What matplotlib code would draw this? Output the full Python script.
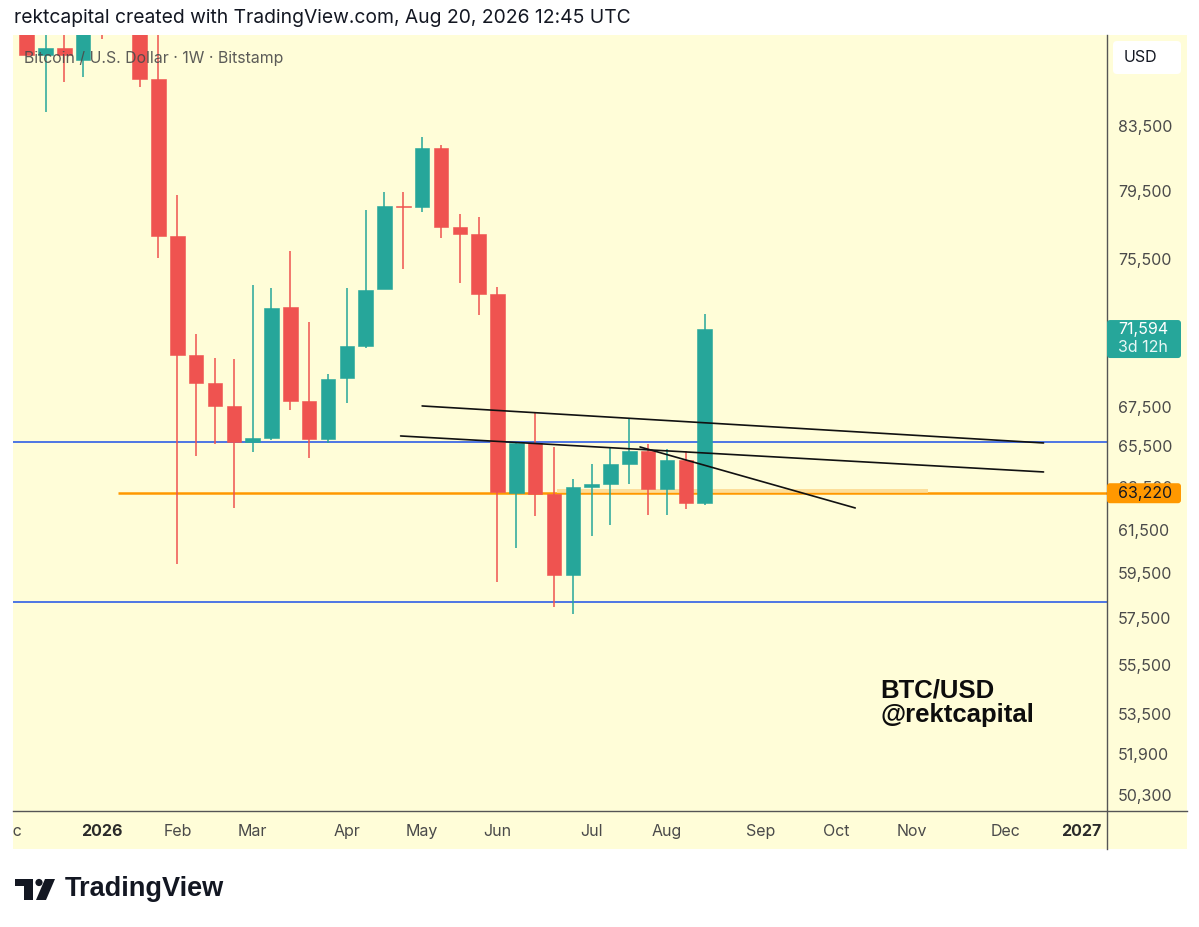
import matplotlib
matplotlib.use("Agg")
import matplotlib.pyplot as plt
import numpy as np
import pandas as pd
from matplotlib.patches import Rectangle, FancyBboxPatch, Circle, Polygon
from matplotlib.lines import Line2D
from matplotlib.transforms import IdentityTransform

plt.rcParams['font.family'] = ['Inter', 'Liberation Sans', 'DejaVu Sans']
UI = ['Inter', 'Liberation Sans', 'DejaVu Sans']
BOLDF = ['Liberation Sans', 'DejaVu Sans']

# ---------------- data ----------------
first_week = '2025-12-08'   # weekly candles (Monday open)
opens  = [90800, 88114, 88583, 87781, 94000, 91600, 95100, 86527, 76823, 70201,
          68727, 67541, 65724, 65923, 72801, 67797, 65873, 68988, 70681, 73801,
          78589, 78530, 82120, 77349, 76940, 73522, 63233, 65674, 63185, 59424,
          63521, 63665, 64637, 65277, 63424, 64833, 62755]
highs  = [91800, 90600, 90200, 92400, 97100, 97900, 95600, 90100, 79247, 71327,
          70041, 69988, 74024, 73857, 75956, 71979, 69197, 73857, 78352, 79428,
          79428, 82807, 82307, 78115, 77937, 73912, 65724, 67183, 65475, 63907,
          64637, 65425, 66878, 65624, 65376, 65277, 72416]
lows   = [88114, 84390, 86330, 86658, 89190, 90300, 86004, 75554, 59921, 65030,
          65624, 62518, 65228, 65823, 67336, 64931, 65674, 67694, 70574, 73801,
          74927, 78234, 76707, 74136, 72361, 59110, 60652, 62141, 58002, 57694,
          61206, 61718, 63665, 62187, 62187, 62471, 62660]
closes = [88114, 88583, 88114, 90700, 91600, 95100, 86527, 76823, 70201, 68727,
          67541, 65724, 65923, 72746, 67797, 65873, 68936, 70681, 73745, 78589,
          78530, 82120, 77349, 76940, 73522, 63281, 65674, 63185, 59424, 63521,
          63665, 64637, 65277, 63424, 64833, 62755, 71594]

price_ticks = [50300, 51900, 53500, 55500, 57500, 59500, 61500, 63500,
               65500, 67500, 75500, 79500, 83500]
month_labels = ['Dec', '2026', 'Feb', 'Mar', 'Apr', 'May', 'Jun', 'Jul',
                'Aug', 'Sep', 'Oct', 'Nov', 'Dec', '2027']
month_starts = pd.date_range('2025-12-01', '2027-01-01', freq='MS')

support_levels = [65724, 58221]       # blue horizontal lines
orange_level = 63220                  # orange horizontal ray
orange_ray_start = '2026-01-11'
zone_dates = ['2026-06-23', '2026-11-08']
zone_prices = [63220, 63424]
# trend lines: (date, price) pairs
trend_lines = [
    (('2026-05-04', 67541), ('2026-12-21', 65674)),
    (('2026-04-26', 66023), ('2026-12-21', 64247)),
    (('2026-07-24', 65475), ('2026-10-12', 62518)),
]
last_price = 71594
countdown = '3d 12h'

# ---------------- helpers ----------------
origin = pd.Timestamp('2026-01-05')
def to_x(d):
    return (pd.Timestamp(d) - origin).days / 7.0

dates = pd.date_range(first_week, periods=len(opens), freq='W-MON')
x = np.array([to_x(d) for d in dates])
O = np.array(opens, float); Hh = np.array(highs, float)
L = np.array(lows, float); C = np.array(closes, float)

W, H = 1199, 927
BG = '#fffdd8'
TEAL = '#26a69a'
RED = '#ef5350'
BLUE = '#2f5ee6'
ORANGE = '#ff9800'
TXT = '#4a4a4a'

fig = plt.figure(figsize=(W / 100, H / 100), dpi=100)
fig.patch.set_facecolor('white')

def fx(px):
    return px / W
def fy(py):   # py measured from top
    return (H - py) / H

# yellow chart background (plot + axes strips)
fig.add_artist(Rectangle((fx(13), fy(849)), fx(1187) - fx(13), fy(35) - fy(849),
                         transform=fig.transFigure, facecolor=BG, edgecolor='none', zorder=0))

ax = fig.add_axes([fx(13), fy(811), fx(1107) - fx(13), fy(35) - fy(811)])
ax.set_facecolor(BG)
for s in ax.spines.values():
    s.set_visible(False)
ax.set_yscale('log')
ax.set_ylim(49693, 89459)
ax.set_xlim(-4.726, 53.37)
ax.set_xticks([])
ax.yaxis.tick_right()
ax.yaxis.set_minor_locator(matplotlib.ticker.NullLocator())
ax.yaxis.set_minor_formatter(matplotlib.ticker.NullFormatter())
ax.set_yticks(price_ticks)
ax.set_yticklabels([f'{v:,}' for v in price_ticks], family=UI)
ax.tick_params(axis='y', length=0, pad=7.9, labelsize=11.5, labelcolor=TXT)

# horizontal levels
for lv in support_levels:
    ax.axhline(lv, color=BLUE, lw=1.2, zorder=2)
ax.hlines(orange_level, to_x(orange_ray_start), 53.37, color=ORANGE, lw=1.8, zorder=2)
ax.add_patch(Rectangle((to_x(zone_dates[0]), zone_prices[0]),
                       to_x(zone_dates[1]) - to_x(zone_dates[0]),
                       zone_prices[1] - zone_prices[0],
                       facecolor='#fcd98f', edgecolor='none', alpha=0.85, zorder=2))

# candles
cols = [TEAL if c >= o else RED for o, c in zip(O, C)]
ax.vlines(x, L, Hh, colors=cols, lw=1.1, zorder=3)
ax.bar(x, np.abs(C - O), bottom=np.minimum(O, C), width=0.77, color=cols,
       edgecolor=cols, linewidth=0.4, zorder=4)

# trend lines
for (d0, p0), (d1, p1) in trend_lines:
    ax.plot([to_x(d0), to_x(d1)], [p0, p1], color='#111111', lw=1.2, zorder=5,
            solid_capstyle='round')

# watermark text
fig.text(fx(880), fy(697), 'BTC/USD', fontsize=18.5, fontweight='bold', family=BOLDF,
         color='#0d0d0d', va='baseline', ha='left')
fig.text(fx(880), fy(722), '@rektcapital', fontsize=18.5, fontweight='bold', family=BOLDF,
         color='#0d0d0d', va='baseline', ha='left')

# legend / header
fig.text(fx(24), fy(59), 'Bitcoin / U.S. Dollar · 1W · Bitstamp', fontsize=11.4,
         family=UI, color=TXT, alpha=0.9, va='center', ha='left', zorder=10)
fig.text(fx(14), fy(18), 'rektcapital created with TradingView.com, Aug 20, 2026 12:45 UTC',
         fontsize=13.9, family=UI, color='#131722', va='center', ha='left')

# time axis strip
ax2 = fig.add_axes([fx(13), fy(849), fx(1107) - fx(13), fy(811) - fy(849)])
ax2.set_xlim(ax.get_xlim())
ax2.set_ylim(0, 1)
ax2.axis('off')
for lab, ms in zip(month_labels, month_starts):
    first_mon = ms + pd.Timedelta(days=(7 - ms.weekday()) % 7)
    bold = lab.isdigit()
    ax2.text(to_x(first_mon), 0.47, lab, ha='center', va='center', fontsize=11.5,
             family=UI, fontweight='bold' if bold else 'normal',
             color='#2a2a2a' if bold else TXT, clip_on=True)

# axis lines
fig.add_artist(Line2D([fx(1107), fx(1107)], [fy(35), fy(849)], transform=fig.transFigure,
                      color='#555555', lw=1.0, zorder=3))
fig.add_artist(Line2D([fx(13), fx(1187)], [fy(811), fy(811)], transform=fig.transFigure,
                      color='#555555', lw=1.0, zorder=3))

# price labels on axis
fig.canvas.draw()
def ydisp(p):
    return ax.transData.transform((0, p))[1]

yd = ydisp(last_price)
fig.add_artist(FancyBboxPatch((1107, yd - 29), 74, 38,
               boxstyle='round,pad=0,rounding_size=3', transform=IdentityTransform(),
               facecolor=TEAL, edgecolor='none', zorder=4))
fig.text(fx(1118), yd / H, f'{last_price:,}', fontsize=11.5, family=UI, color='white',
         va='center', ha='left', zorder=5)
fig.text(fx(1118), (yd - 18) / H, countdown, fontsize=11.5, family=UI, color='#e6f7f5',
         va='center', ha='left', zorder=5)

yo = ydisp(orange_level)
fig.add_artist(FancyBboxPatch((1107, yo - 10), 74, 20,
               boxstyle='round,pad=0,rounding_size=3', transform=IdentityTransform(),
               facecolor=ORANGE, edgecolor='none', zorder=4))
fig.text(fx(1118), yo / H, f'{orange_level:,}', fontsize=11.5, family=UI, color='#131722',
         va='center', ha='left', zorder=5)

# USD box
fig.add_artist(FancyBboxPatch((1113, H - 74), 68, 33,
               boxstyle='round,pad=0,rounding_size=4', transform=IdentityTransform(),
               facecolor='white', edgecolor='none', zorder=4))
fig.text(fx(1124), fy(57.5), 'USD', fontsize=11.5, family=UI, color='#131722',
         va='center', ha='left', zorder=5)

# TradingView logo
logo = [Rectangle((15, H - 886), 18, 7), Rectangle((24, H - 900), 9, 21),
        Circle((39, H - 882.5), 3.6),
        Polygon([(45, H - 879), (55, H - 879), (46, H - 900), (36, H - 900)])]
for p in logo:
    p.set_transform(IdentityTransform())
    p.set_facecolor('#131722'); p.set_edgecolor('none')
    fig.add_artist(p)
fig.text(fx(65), fy(889), 'TradingView', fontsize=19.5, fontweight='bold', family=BOLDF,
         color='#131722', va='center', ha='left')

fig.savefig('out.png', dpi=100, facecolor='white')
